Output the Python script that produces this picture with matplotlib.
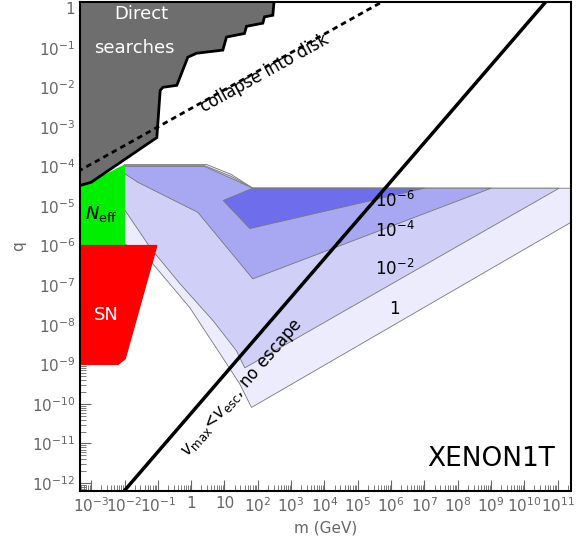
import numpy as np
import matplotlib
matplotlib.use('Agg')
import matplotlib.pyplot as plt
from matplotlib.ticker import FixedLocator, LogLocator, NullFormatter

# log10 coordinates
direct_lx = [-3.4, -3.33, -3.0, -1.03, -0.93, -0.85, -0.43, -0.1, 0.16, 0.95, 1.06, 1.6, 1.66, 2.15, 2.2, 2.45, 2.5, -3.4]
direct_lq = [-4.48, -4.48, -4.4, -3.27, -2.08, -2.0, -1.95, -1.24, -1.14, -1.06, -0.73, -0.64, -0.46, -0.38, -0.22, -0.18, 0.3, 0.3]
disk_lx = [-3.4, 6.2]
disk_lq = [-4.13, 0.38]
vmax_lx = [-2.01, 10.68]
vmax_lq = [-12.2, 0.2]
neff_lx = [-3.4, -2.0, -2.0, -3.0, -3.4]
neff_lq = [-6.0, -6.0, -3.97, -4.4, -4.48]
sn_lx = [-3.4, -1.03, -1.98, -2.19, -3.4]
sn_lq = [-6.0, -6.0, -8.86, -9.0, -9.0]

c1_lx = [-2, 0.46, 1.2, 1.85, 11.4, 11.4, 1.81, 1.46, 0.95, -0.04, -1.23, -2]
c1_lq = [-3.95, -3.95, -4.2, -4.55, -4.55, -5.41, -10.09, -9.5, -8.84, -7.57, -6.38, -5.95]
c2_lx = [-2, 0.4, 1.2, 1.85, 11.04, 1.61, 1.36, 0.66, -0.34, -1.23, -2]
c2_lq = [-3.98, -3.98, -4.25, -4.55, -4.55, -9.09, -8.66, -7.9, -6.96, -6.05, -5.09]
c3_lx = [-2, 0.4, 1.2, 1.85, 9.0, 1.85, 0.2, -1.6, -2]
c3_lq = [-4.0, -4.0, -4.3, -4.55, -4.55, -6.84, -5.16, -4.4, -4.18]
c4_lx = [0.96, 1.85, 7.0, 1.76]
c4_lq = [-4.86, -4.55, -4.55, -5.57]
contour_fill = ['#ececfc', '#cfcff7', '#a8a8f2', '#6e6eec']
contour_labels = ['1', '$10^{-2}$', '$10^{-4}$', '$10^{-6}$']
label_lq = [-7.6, -6.58, -5.62, -4.86]

xticks = list(range(-3, 12))
yticks = list(range(-12, 1))


def fmt(e):
    if e == 0:
        return '1'
    if e == 1:
        return '10'
    return '$10^{%d}$' % e


P = lambda a: 10.0 ** np.array(a)

fig = plt.figure(figsize=(5.81, 5.51), dpi=100)
ax = fig.add_axes([0.138, 0.109, 0.845, 0.887])
ax.set_xscale('log')
ax.set_yscale('log')
ax.set_xlim(10 ** -3.33, 10 ** 11.4)
ax.set_ylim(10 ** -12.2, 10 ** 0.15)

for lx, lq, c in zip([c1_lx, c2_lx, c3_lx, c4_lx], [c1_lq, c2_lq, c3_lq, c4_lq], contour_fill):
    ax.fill(P(lx), P(lq), facecolor=c, edgecolor='#777777', lw=0.6, zorder=2)
for lab, lq in zip(contour_labels, label_lq):
    ax.text(10 ** 6.1, 10 ** lq, lab, fontsize=12, ha='center', va='center', zorder=6)

ax.fill(P(neff_lx), P(neff_lq), color='#00ee00', zorder=3)
ax.fill(P(sn_lx), P(sn_lq), color='#ff0000', zorder=3)
ax.fill(P(direct_lx), P(direct_lq), facecolor='#6e6e6e', edgecolor='black', lw=2, zorder=4)
ax.plot(P(disk_lx), P(disk_lq), 'k', ls=(0, (2, 1.5)), lw=2, zorder=5)
ax.plot(P(vmax_lx), P(vmax_lq), 'k', lw=2.5, zorder=5)

ax.text(10 ** -1.5, 10 ** -0.15, 'Direct', color='white', fontsize=13, ha='center', va='center', zorder=6)
ax.text(10 ** -1.7, 10 ** -1.0, 'searches', color='white', fontsize=13, ha='center', va='center', zorder=6)
ax.text(10 ** 2.2, 10 ** -1.65, 'collapse into disk', fontsize=12, rotation=29,
        ha='center', va='center', rotation_mode='anchor', zorder=6)
ax.text(10 ** 1.55, 10 ** -9.6, '$v_{\\rm max}$<$v_{\\rm esc}$, no escape', fontsize=12, rotation=49,
        ha='center', va='center', rotation_mode='anchor', zorder=6)
ax.text(10 ** -2.7, 10 ** -5.2, '$N_{\\rm eff}$', fontsize=13, ha='center', va='center', zorder=6)
ax.text(10 ** -2.55, 10 ** -7.75, 'SN', color='white', fontsize=13, ha='center', va='center', zorder=6)
ax.text(10 ** 9.0, 10 ** -11.4, 'XENON1T', fontsize=19, ha='center', va='center', zorder=6)

grey = '#666666'
ax.xaxis.set_major_locator(FixedLocator(P(xticks)))
ax.yaxis.set_major_locator(FixedLocator(P(yticks)))
ax.xaxis.set_minor_locator(LogLocator(base=10, subs=np.arange(2, 10), numticks=40))
ax.yaxis.set_minor_locator(LogLocator(base=10, subs=np.arange(2, 10), numticks=40))
ax.xaxis.set_minor_formatter(NullFormatter())
ax.yaxis.set_minor_formatter(NullFormatter())
ax.set_xticklabels([fmt(e) for e in xticks])
ax.set_yticklabels([fmt(e) for e in yticks])
ax.tick_params(which='both', direction='in', color=grey, labelcolor=grey, labelsize=11)
ax.tick_params(which='major', length=8)
ax.tick_params(which='minor', length=4)
ax.set_xlabel('m (GeV)', color=grey, fontsize=11)
ax.set_ylabel('q', color=grey, fontsize=11)
for s in ax.spines.values():
    s.set_linewidth(1.5)
    s.set_zorder(7)

fig.savefig('out.png', dpi=100)
